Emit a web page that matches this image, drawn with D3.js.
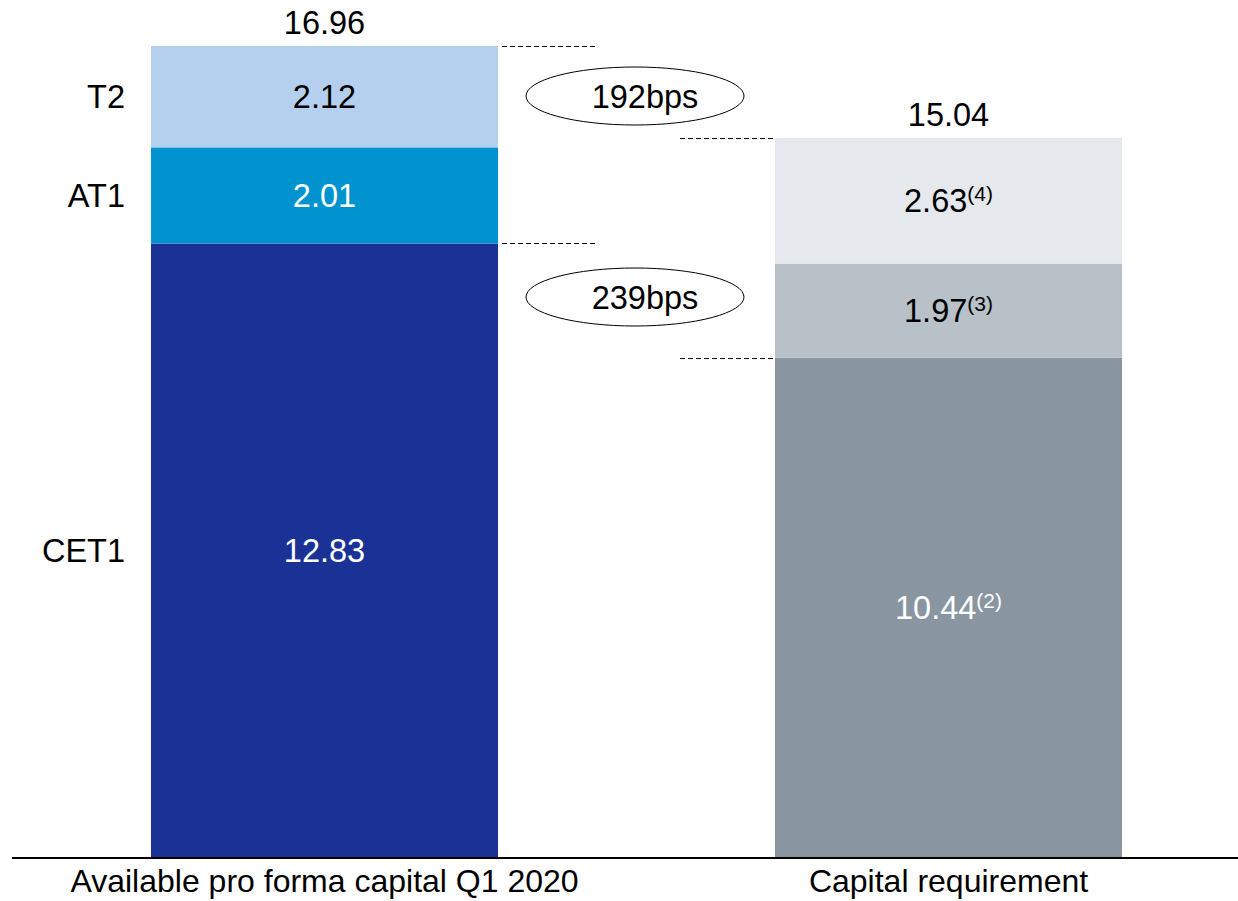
<!DOCTYPE html>
<html><head><meta charset="utf-8">
<script src="https://cdn.jsdelivr.net/npm/d3@7"></script>
<style>body{margin:0;background:#fff}svg{display:block}text{font-family:"Liberation Sans",Arial,sans-serif}</style>
</head><body><svg id="c" width="1238" height="901"></svg>
<script>
const categories = ["Available pro forma capital Q1 2020", "Capital requirement"];
const segmentKeys = ["s1", "s2", "s3"];
const leftValues = [12.83, 2.01, 2.12];      // CET1, AT1, T2
const rightValues = [10.44, 1.97, 2.63];
const leftNames = ["CET1", "AT1", "T2"];
const rightNotes = ["(2)", "(3)", "(4)"];
const totals = [16.96, 15.04];
const gaps = [{label: "192bps", lo: 15.04, hi: 16.96}, {label: "239bps", lo: 10.44, hi: 12.83}];
const leftColors = ["#1a3296", "#0093d0", "#b4d0ee"];
const rightColors = ["#8996a2", "#b7c1c7", "#e5e8ec"];
const leftText = ["#fff", "#fff", "#000"];
const rightText = ["#fff", "#000", "#000"];

const FS = 32.5;
const svg = d3.select("#c");
const baseY = 857;
const y = d3.scaleLinear().domain([0, 16.96]).range([baseY, 46]);
const step = 624, bwid = 347, po = 139 / step;
const x = d3.scaleBand().domain(categories).range([12, 12 + step * (2 - (step - bwid) / step + 2 * po)])
  .paddingInner((step - bwid) / step).paddingOuter(po);
const bw = x.bandwidth();

const table = categories.map((c, ci) => {
  const o = {cat: c};
  segmentKeys.forEach((k, i) => o[k] = ci === 0 ? leftValues[i] : rightValues[i]);
  return o;
});
const stacked = d3.stack().keys(segmentKeys)(table);

stacked.forEach((layer, li) => {
  layer.forEach((d, ci) => {
    const c = d.data.cat;
    svg.append("rect")
      .attr("x", x(c)).attr("width", bw)
      .attr("y", y(d[1])).attr("height", y(d[0]) - y(d[1]))
      .attr("fill", ci === 0 ? leftColors[li] : rightColors[li]);
    const cy = (y(d[0]) + y(d[1])) / 2;
    const t = svg.append("text")
      .attr("x", x(c) + bw / 2).attr("y", cy).attr("dy", "0.36em")
      .attr("text-anchor", "middle").attr("font-size", FS)
      .attr("fill", ci === 0 ? leftText[li] : rightText[li]);
    const v = ci === 0 ? leftValues[li] : rightValues[li];
    t.append("tspan").text(v.toFixed(2));
    if (ci === 1) {
      t.append("tspan").attr("font-size", 21).attr("dy", "-0.55em").text(rightNotes[li]);
    }
    if (ci === 0) {
      svg.append("text").attr("x", 125).attr("y", cy).attr("dy", "0.36em")
        .attr("text-anchor", "end").attr("font-size", FS).attr("fill", "#000")
        .text(leftNames[li]);
    }
  });
});

// totals
categories.forEach((c, i) => {
  svg.append("text").attr("x", x(c) + bw / 2).attr("y", y(totals[i]) - 24).attr("dy", "0.36em")
    .attr("text-anchor", "middle").attr("font-size", FS).attr("fill", "#000")
    .text(totals[i].toFixed(2));
});

// dashed connectors
const dash = (x1, x2, v) => svg.append("line").attr("x1", x1).attr("x2", x2)
  .attr("y1", Math.round(y(v)) + 0.5).attr("y2", Math.round(y(v)) + 0.5)
  .attr("stroke", "#000").attr("stroke-width", 1).attr("stroke-dasharray", "5,3");
dash(502, 597, 16.96);
dash(502, 597, 12.83);
dash(680, 775, 15.04);
dash(680, 775, 10.44);

// ellipses
const gy = [96, 297];
gaps.forEach((g, i) => {
  svg.append("ellipse").attr("cx", 635).attr("cy", gy[i]).attr("rx", 109).attr("ry", 29)
    .attr("fill", "#fff").attr("stroke", "#000").attr("stroke-width", 1);
  svg.append("text").attr("x", 645).attr("y", gy[i]).attr("dy", "0.36em")
    .attr("text-anchor", "middle").attr("font-size", FS).attr("fill", "#000").text(g.label);
});

// baseline
svg.append("line").attr("x1", 12).attr("x2", 1238).attr("y1", baseY + 1).attr("y2", baseY + 1)
  .attr("stroke", "#000").attr("stroke-width", 2);

// category labels
categories.forEach(c => {
  svg.append("text").attr("x", x(c) + bw / 2).attr("y", 880).attr("dy", "0.36em")
    .attr("text-anchor", "middle").attr("font-size", 32).attr("fill", "#000").text(c);
});
</script></body></html>
